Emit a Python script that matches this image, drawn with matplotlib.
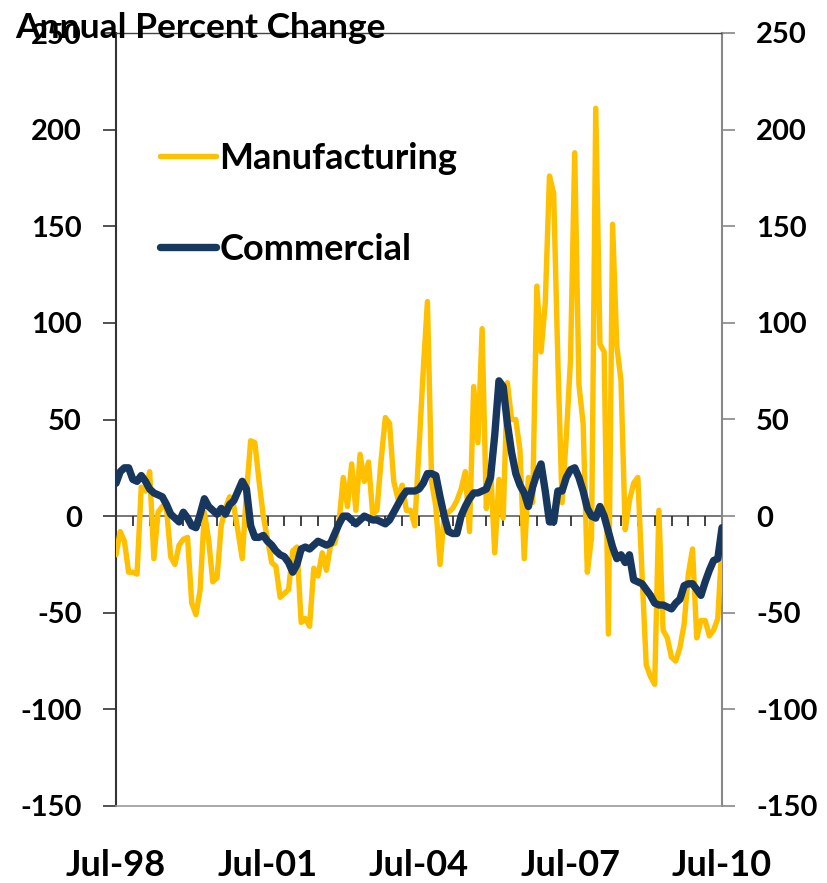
import numpy as np
from matplotlib import pyplot as plt

# monthly annual % change, Jul-98 .. Jul-10
manufacturing = [-20, -8, -13, -29, -29, -30, 15, 13, 23, -22,
                 2, 5, 4, -21, -25, -15, -12, -11, -45, -51,
                 -38, 2, -12, -34, -32, -5, 4, 10, 5, -8,
                 -22, 12, 39, 38, 18, 0, -12, -24, -26, -42,
                 -40, -38, -18, -16, -55, -53, -57, -27, -31, -19,
                 -28, -15, -14, -3, 20, 5, 27, 3, 32, 18,
                 28, 1, 3, 29, 51, 48, 18, 9, 16, 3,
                 3, -5, 35, 75, 111, 18, 5, -25, 1, 2,
                 4, 8, 14, 23, -8, 67, 38, 97, 4, 25,
                 -19, 19, -1, 69, 50, 50, 34, -22, 20, 7,
                 119, 85, 110, 176, 167, 80, 7, 41, 81, 188,
                 68, 48, -29, -11, 211, 89, 85, -61, 151, 88,
                 70, -7, 8, 17, 20, -30, -77, -83, -87, 3,
                 -59, -63, -73, -75, -68, -56, -30, -17, -63, -54,
                 -54, -62, -59, -53, -14]
commercial = [17, 23, 25, 25, 19, 18, 21, 18, 14, 12,
              11, 10, 6, 1, -1, -3, 2, -1, -5, -6,
              1, 9, 5, 3, 1, 4, 1, 6, 8, 13,
              18, 14, -5, -11, -11, -10, -13, -15, -18, -20,
              -21, -24, -29, -25, -17, -16, -17, -15, -13, -14,
              -15, -14, -9, -4, 0, 0, -2, -4, -2, 0,
              -1, -2, -2, -3, -4, -2, 2, 6, 10, 13,
              13, 13, 14, 17, 22, 22, 21, 10, 0, -8,
              -9, -9, 0, 5, 9, 12, 12, 13, 14, 20,
              42, 70, 67, 48, 33, 22, 16, 12, 5, 15,
              22, 27, 13, -3, -3, 13, 13, 20, 24, 25,
              20, 13, 4, 0, -1, 5, 0, -8, -16, -22,
              -20, -24, -20, -33, -34, -35, -38, -41, -45, -46,
              -46, -47, -48, -45, -43, -36, -35, -35, -38, -41,
              -34, -28, -23, -22, -6]
date_labels = ['Jul-98', 'Jul-01', 'Jul-04', 'Jul-07', 'Jul-10']
months = np.arange(len(manufacturing))

plt.rcParams['font.family'] = ['Lato', 'DejaVu Sans']
plt.rcParams['font.weight'] = 'bold'

fig = plt.figure(figsize=(8.28, 8.83), dpi=100)
ax = fig.add_axes([116/828, 1 - 806/883, 606/828, 773/883])

ax.plot(months, manufacturing, color='#FFC000', lw=3.9,
        solid_joinstyle='round', solid_capstyle='round', label='Manufacturing', zorder=3)
ax.plot(months, commercial, color='#17375E', lw=5.3,
        solid_joinstyle='round', solid_capstyle='round', label='Commercial', zorder=4)

ax.set_xlim(0, len(months) - 1)
ax.set_ylim(-150, 250)
yt = np.arange(-150, 251, 50)
ax.set_yticks(yt)
ax.set_yticklabels([str(v) for v in yt], fontsize=21, fontweight='bold')
ax.tick_params(axis='y', direction='out', length=9.5, width=1.2, color='#333333', pad=15)

# category axis crossing at zero, tick marks every 4 months
ax.axhline(0, color='#777777', lw=1.4, zorder=2)
ax.vlines(np.arange(0, len(months), 4), -5.3, 0, color='#222222', lw=1.2, zorder=2)

ax.set_xticks(np.arange(0, len(months), 36))
ax.set_xticklabels(date_labels, fontsize=26, fontweight='bold')
ax.tick_params(axis='x', length=0, pad=31)

ax.spines['left'].set_color('#333333')
ax.spines['left'].set_linewidth(1.5)
ax.spines['right'].set_color('#888888')
ax.spines['right'].set_linewidth(1.5)
ax.spines['top'].set_color('#444444')
ax.spines['top'].set_linewidth(1.0)
ax.spines['bottom'].set_color('#999999')
ax.spines['bottom'].set_linewidth(1.2)

ax2 = ax.twinx()
ax2.set_ylim(-150, 250)
ax2.set_yticks(yt)
ax2.set_yticklabels([str(v) for v in yt], fontsize=21, fontweight='bold')
ax2.tick_params(axis='y', direction='out', length=9.5, width=1.2, color='#888888', pad=15)
for s in ax2.spines.values():
    s.set_visible(False)

ax.legend(loc='upper left', bbox_to_anchor=(0.072, 0.859), frameon=False,
          fontsize=26, handlelength=1.55, handletextpad=0.1, labelspacing=1.6,
          borderpad=0, borderaxespad=0)

fig.text(15/828, 1 - 28/883, 'Annual Percent Change', fontsize=25.5,
         fontweight='bold', ha='left', va='center')

fig.savefig('out.png', dpi=100)
